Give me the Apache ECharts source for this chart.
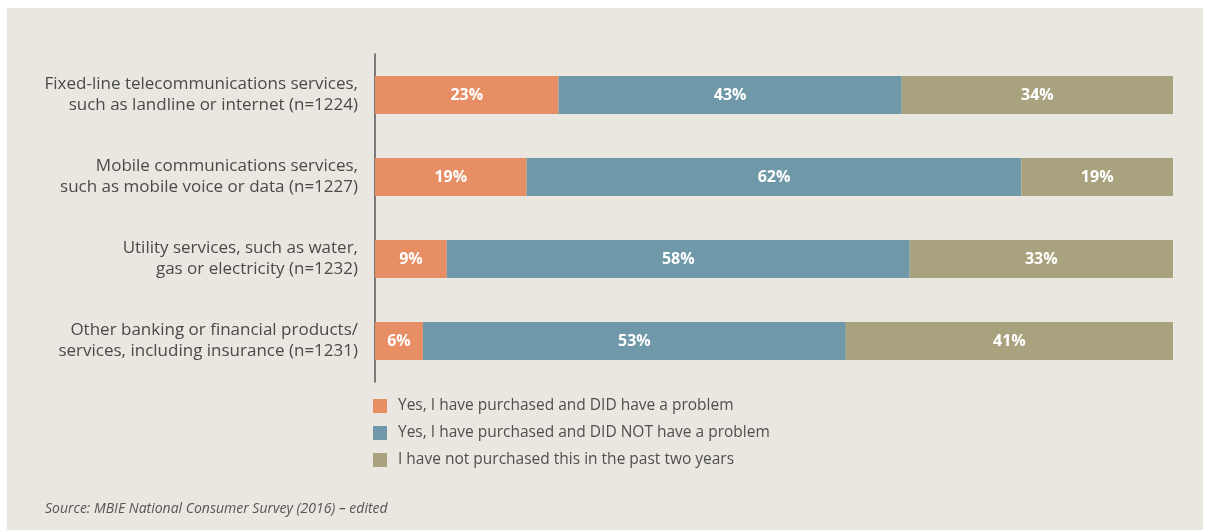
<!DOCTYPE html>
<html>
<head>
<meta charset="utf-8">
<script src="https://cdn.jsdelivr.net/npm/echarts@6/dist/echarts.min.js"></script>
<style>
  html, body { margin: 0; padding: 0; background: #ffffff; }
  #wrap { position: absolute; left: 7px; top: 8px; width: 1196px; height: 522px; background: #eae7e0; }
  #chart { position: absolute; left: -7px; top: -8px; width: 1205px; height: 530px; }
</style>
</head>
<body>
<div id="wrap"><div id="chart"></div></div>
<script>
// Survey categories (top to bottom)
const categories = [
  'Fixed-line telecommunications services,\nsuch as landline or internet (n=1224)',
  'Mobile communications services,\nsuch as mobile voice or data (n=1227)',
  'Utility services, such as water,\ngas or electricity (n=1232)',
  'Other banking or financial products/\nservices, including insurance (n=1231)'
];
const seriesNames = [
  'Yes, I have purchased and DID have a problem',
  'Yes, I have purchased and DID NOT have a problem',
  'I have not purchased this in the past two years'
];
// Percentages per category, same order as categories
const didHaveProblem = [23, 19, 9, 6];
const didNotHaveProblem = [43, 62, 58, 53];
const notPurchased = [34, 19, 33, 41];

const colors = ['#e88e64', '#6f98a8', '#a9a27f'];
const values = [didHaveProblem, didNotHaveProblem, notPurchased];
const fontFamily = '"Open Sans", "Noto Sans", sans-serif';

const chart = echarts.init(document.getElementById('chart'), null, { renderer: 'canvas' });

chart.setOption({
  backgroundColor: 'transparent',
  animation: false,
  textStyle: { fontFamily: fontFamily },
  grid: { left: 375, right: 32, top: 54, height: 328, containLabel: false },
  xAxis: {
    type: 'value', min: 0, max: 100,
    show: false
  },
  yAxis: {
    type: 'category',
    inverse: true,
    data: categories,
    axisLine: { show: true, lineStyle: { color: '#555555', width: 1.5 } },
    axisTick: { show: false },
    axisLabel: {
      margin: 17,
      color: '#4a4a4a',
      fontSize: 17,
      lineHeight: 21,
      align: 'right',
      fontFamily: fontFamily
    }
  },
  legend: {
    orient: 'vertical',
    left: 368, top: 393,
    itemWidth: 14, itemHeight: 14,
    itemGap: 11,
    icon: 'rect',
    textStyle: { color: '#4f4f4f', fontSize: 15.5, fontFamily: fontFamily, padding: [0, 0, 0, 6] },
    data: seriesNames
  },
  title: {
    text: 'Source: MBIE National Consumer Survey (2016) – edited',
    left: 40, top: 497,
    textStyle: { fontSize: 14, fontStyle: 'italic', fontWeight: 'normal', color: '#555555', fontFamily: fontFamily }
  },
  series: seriesNames.map((name, i) => ({
    name: name,
    type: 'bar',
    stack: 'total',
    barWidth: 38,
    itemStyle: { color: colors[i] },
    label: {
      show: true,
      position: 'inside',
      color: '#ffffff',
      fontWeight: 'bold',
      fontSize: 16,
      fontFamily: fontFamily,
      formatter: p => p.value + '%'
    },
    data: values[i]
  }))
});
</script>
</body>
</html>
